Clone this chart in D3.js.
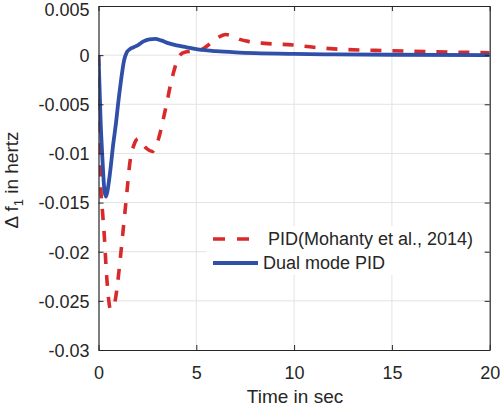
<!DOCTYPE html>
<html>
<head>
<meta charset="utf-8">
<script src="https://cdn.jsdelivr.net/npm/d3@7"></script>
<style>
  html, body { margin: 0; padding: 0; background: #fff; }
  svg { display: block; }
  text { font-family: "Liberation Sans", Arial, Helvetica, sans-serif; fill: #262626; }
</style>
</head>
<body>
<svg id="chart" width="500" height="406"></svg>
<script>
// ---- data ----
const pidTime = [0, 0.04, 0.08, 0.12, 0.2, 0.3, 0.4, 0.5, 0.6, 0.7, 0.85, 1.0, 1.15, 1.3, 1.45, 1.6, 1.8, 2.03, 2.25, 2.46, 2.75, 2.95, 3.14, 3.3, 3.49, 3.65, 3.83, 4.0, 4.17, 4.4, 4.8, 5.2, 5.53, 6.04, 6.5, 6.9, 7.23, 7.75, 8.5, 9.96, 11, 12.35, 14.9, 17, 20];
const pidValue = [0, -0.004, -0.009, -0.0135, -0.0158, -0.0185, -0.022, -0.0245, -0.0258, -0.0258, -0.025, -0.0228, -0.02, -0.017, -0.014, -0.011, -0.0092, -0.0085, -0.009, -0.0095, -0.0098, -0.0092, -0.008, -0.0066, -0.0049, -0.0033, -0.0018, -0.0007, 0.0, 0.0003, 0.0004, 0.0005, 0.0009, 0.0017, 0.0021, 0.0019, 0.0016, 0.00137, 0.0012, 0.00103, 0.0008, 0.0006, 0.00045, 0.00035, 0.00025];

const dualTime = [0, 0.05, 0.1, 0.2, 0.3, 0.38, 0.46, 0.6, 0.75, 0.9, 1.0, 1.15, 1.3, 1.45, 1.6, 1.8, 2.0, 2.3, 2.6, 2.9, 3.2, 3.6, 4.0, 4.5, 5.0, 6.0, 7.0, 8.0, 10, 12, 15, 20];
const dualValue = [0, -0.003, -0.0062, -0.0105, -0.0137, -0.0144, -0.0138, -0.0118, -0.0091, -0.0068, -0.005, -0.0026, -0.0006, 0.0003, 0.0006, 0.0008, 0.001, 0.0014, 0.0016, 0.00165, 0.0015, 0.0012, 0.001, 0.0008, 0.0006, 0.0004, 0.00028, 0.0002, 0.00012, 0.00008, 0.00004, 0.00001];

const xTicks = [0, 5, 10, 15, 20];
const yTicks = [0.005, 0, -0.005, -0.01, -0.015, -0.02, -0.025, -0.03];
const yTickLabels = ["0.005", "0", "-0.005", "-0.01", "-0.015", "-0.02", "-0.025", "-0.03"];
const seriesNames = ["PID(Mohanty et al., 2014)", "Dual mode PID"];
const seriesColors = ["#d82a2a", "#2f4fa8"];

// ---- layout ----
const svg = d3.select("#chart");
const L = 98.5, R = 489.7, T = 6, B = 350;
const x = d3.scaleLinear().domain([0, 20]).range([L, R]);
const y = d3.scaleLinear().domain([-0.03, 0.005]).range([B, T]);

const axisColor = "#262626";
const gridColor = "#e3e3e3";

// grid
const grid = svg.append("g");
grid.selectAll(".vg").data(xTicks.slice(1, -1)).enter().append("line")
  .attr("x1", d => x(d)).attr("x2", d => x(d)).attr("y1", T).attr("y2", B)
  .attr("stroke", gridColor).attr("stroke-width", 1);
grid.selectAll(".hg").data(yTicks.slice(1, -1)).enter().append("line")
  .attr("x1", L).attr("x2", R).attr("y1", d => y(d)).attr("y2", d => y(d))
  .attr("stroke", gridColor).attr("stroke-width", 1);

// lines
svg.append("clipPath").attr("id", "clip").append("rect")
  .attr("x", L).attr("y", T).attr("width", R - L).attr("height", B - T);
const lineGen = d3.line().x(d => x(d[0])).y(d => y(d[1])).curve(d3.curveMonotoneX);
const pidData = pidTime.map((t, i) => [t, pidValue[i]]);
const dualData = dualTime.map((t, i) => [t, dualValue[i]]);

const plot = svg.append("g").attr("clip-path", "url(#clip)");
plot.append("path").datum(pidData).attr("d", lineGen)
  .attr("fill", "none").attr("stroke", seriesColors[0]).attr("stroke-width", 3.6)
  .attr("stroke-dasharray", "11,11");
plot.append("path").datum(dualData).attr("d", lineGen)
  .attr("fill", "none").attr("stroke", seriesColors[1]).attr("stroke-width", 3.8)
  .attr("stroke-linejoin", "round");

// axes (box with inward ticks)
const tickLen = 5;
const axBottom = svg.append("g").attr("transform", `translate(0,${B})`)
  .call(d3.axisBottom(x).tickValues(xTicks).tickSizeInner(-tickLen).tickSizeOuter(0).tickPadding(16).tickFormat(d3.format("d")));
const axTop = svg.append("g").attr("transform", `translate(0,${T})`)
  .call(d3.axisTop(x).tickValues(xTicks).tickSizeInner(-tickLen).tickSizeOuter(0).tickFormat(""));
const axLeft = svg.append("g").attr("transform", `translate(${L},0)`)
  .call(d3.axisLeft(y).tickValues(yTicks).tickSizeInner(-tickLen).tickSizeOuter(0).tickPadding(9)
    .tickFormat((d, i) => yTickLabels[i]));
const axRight = svg.append("g").attr("transform", `translate(${R},0)`)
  .call(d3.axisRight(y).tickValues(yTicks).tickSizeInner(-tickLen).tickSizeOuter(0).tickFormat(""));

[axBottom, axTop, axLeft, axRight].forEach(g => {
  g.select(".domain").attr("stroke", axisColor).attr("stroke-width", 1.2);
  g.selectAll(".tick line").attr("stroke", axisColor).attr("stroke-width", 1);
  g.selectAll("text").attr("font-size", 18).attr("fill", axisColor)
    .attr("font-family", '"Liberation Sans", Arial, sans-serif');
});
axLeft.selectAll("text").attr("dy", "0.35em");
axLeft.select(".tick text").attr("dy", "0.55em");

// axis labels
svg.append("text").attr("x", 295).attr("y", 403).attr("text-anchor", "middle")
  .attr("font-size", 19).text("Time in sec");

const yl = svg.append("text").attr("transform", "translate(18,180) rotate(-90)")
  .attr("text-anchor", "middle").attr("font-size", 19);
yl.append("tspan").text("Δ f");
yl.append("tspan").attr("font-size", 13).attr("dy", 5).text("1");
yl.append("tspan").attr("dy", -5).text(" in hertz");

// legend
const lg = svg.append("g");
lg.append("rect").attr("x", 206).attr("y", 226).attr("width", 278).attr("height", 49).attr("fill", "#fff");
lg.append("line").attr("x1", 213).attr("x2", 254).attr("y1", 239).attr("y2", 239)
  .attr("stroke", seriesColors[0]).attr("stroke-width", 3.6).attr("stroke-dasharray", "12,12");
lg.append("line").attr("x1", 213).attr("x2", 258).attr("y1", 263).attr("y2", 263)
  .attr("stroke", seriesColors[1]).attr("stroke-width", 3.8);
lg.append("text").attr("x", 268).attr("y", 239).attr("dy", "0.35em").attr("font-size", 18).text(seriesNames[0]);
lg.append("text").attr("x", 263).attr("y", 263).attr("dy", "0.35em").attr("font-size", 18).text(seriesNames[1]);
</script>
</body>
</html>
